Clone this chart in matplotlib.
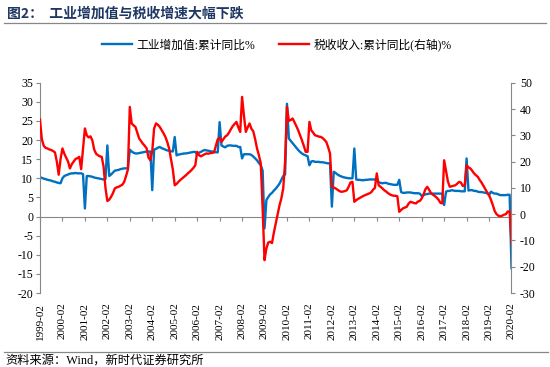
import matplotlib
matplotlib.use("Agg")
import matplotlib.pyplot as plt
from matplotlib.font_manager import FontProperties
from matplotlib.lines import Line2D
import pandas as pd

plt.rcParams["axes.unicode_minus"] = False

months = list(pd.period_range("1999-02", "2020-02", freq="M").strftime("%Y-%m"))
tick_labels = [f"{y}-02" for y in range(1999, 2021)]

# 工业增加值:累计同比 %, monthly 1999-02 .. 2020-02 (one row per calendar year)
iva_yoy = [
    10.3, 10.1, 9.9, 9.8, 9.6, 9.5, 9.4, 9.2, 9.1, 8.9, 8.8,                 # 1999 (Feb-Dec)
    8.7, 10.0, 10.6, 10.8, 11.0, 11.2, 11.3, 11.3, 11.4, 11.3, 11.3, 11.3,   # 2000
    11.1, 2.1, 10.6, 10.6, 10.5, 10.4, 10.2, 10.1, 10.0, 9.9, 9.8, 9.7,      # 2001
    9.8, 18.6, 10.6, 11.0, 11.5, 12.0, 12.1, 12.2, 12.4, 12.5, 12.6, 12.6,   # 2002
    12.7, 17.5, 17.0, 16.7, 16.5, 16.5, 16.6, 16.7, 16.8, 16.9, 17.0, 17.0,  # 2003
    17.0, 6.9, 17.5, 17.7, 18.0, 18.2, 17.9, 17.7, 17.5, 17.3, 17.2, 17.1,   # 2004
    17.0, 20.8, 16.0, 16.2, 16.3, 16.4, 16.5, 16.5, 16.6, 16.7, 16.8, 16.9,  # 2005
    16.9, 16.2, 16.7, 16.9, 17.2, 17.4, 17.3, 17.2, 17.1, 17.0, 16.9, 16.8,  # 2006
    16.8, 24.7, 18.6, 18.3, 18.1, 18.5, 18.6, 18.6, 18.5, 18.5, 18.5, 18.2,  # 2007
    18.2, 15.2, 16.3, 16.3, 16.3, 16.3, 16.1, 15.7, 15.2, 14.7, 14.0, 13.4,  # 2008
    12.0, -3.1, 4.3, 5.1, 5.8, 6.2, 6.8, 7.3, 7.9, 8.6, 9.6, 10.6,           # 2009
    11.0, 29.5, 20.4, 19.8, 19.2, 18.6, 18.0, 17.4, 16.9, 16.5, 16.2, 16.0,  # 2010
    15.8, 13.4, 14.4, 14.5, 14.3, 14.3, 14.3, 14.2, 14.2, 14.1, 14.0, 13.9,  # 2011
    14.0, 2.6, 11.7, 11.4, 11.0, 10.7, 10.5, 10.3, 10.2, 10.1, 10.0, 10.0,   # 2012
    10.0, 17.8, 9.7, 9.6, 9.6, 9.5, 9.5, 9.6, 9.6, 9.7, 9.7, 9.7,            # 2013
    9.7, 9.4, 9.0, 8.8, 8.7, 8.8, 8.8, 8.6, 8.5, 8.4, 8.3, 8.3,              # 2014
    8.3, 9.6, 6.4, 6.2, 6.2, 6.3, 6.3, 6.3, 6.2, 6.1, 6.1, 6.1,              # 2015
    6.0, 5.4, 5.6, 5.8, 5.9, 6.0, 6.0, 6.0, 6.0, 6.0, 6.0, 6.0,              # 2016
    6.0, 3.0, 6.5, 6.7, 6.7, 6.9, 6.8, 6.7, 6.7, 6.7, 6.6, 6.6,              # 2017
    6.6, 15.2, 6.8, 6.9, 6.9, 6.7, 6.7, 6.5, 6.4, 6.4, 6.3, 6.2,             # 2018
    6.1, 5.6, 6.5, 6.2, 6.0, 6.0, 5.8, 5.6, 5.6, 5.6, 5.6, 5.7,              # 2019
    5.7, -13.5,                                                              # 2020
]

# 税收收入:累计同比 % (right axis)
tax_yoy = [
    36.0, 28.5, 26.0, 25.2, 25.0, 24.6, 24.4, 24.0, 23.5, 20.0, 15.0,        # 1999 (Feb-Dec)
    21.0, 25.0, 23.0, 21.5, 20.0, 17.4, 19.0, 20.0, 21.0, 21.3, 21.8, 17.1,  # 2000
    25.0, 32.6, 30.0, 29.2, 29.6, 28.0, 24.5, 23.0, 22.4, 22.0, 21.8, 18.0,  # 2001
    10.0, 5.0, 5.5, 6.6, 8.0, 9.8, 10.2, 10.4, 10.8, 11.2, 12.3, 14.5,       # 2002
    17.0, 40.8, 34.5, 33.8, 33.2, 31.0, 28.8, 27.8, 26.8, 26.0, 25.0, 21.5,  # 2003
    20.5, 24.0, 32.6, 34.5, 34.0, 33.2, 32.0, 30.8, 29.4, 27.5, 25.0, 21.0,  # 2004
    17.0, 11.0, 11.5, 12.3, 13.0, 13.6, 14.2, 14.8, 15.5, 16.1, 16.8, 17.6,  # 2005
    18.6, 23.7, 22.4, 22.0, 22.4, 22.8, 23.1, 23.0, 23.2, 23.3, 23.5, 26.0,  # 2006
    28.5, 29.0, 27.5, 28.5, 29.5, 30.0, 31.0, 32.3, 33.5, 34.3, 35.1, 33.0,  # 2007
    31.3, 44.6, 37.5, 31.3, 33.0, 34.5, 32.5, 31.5, 28.5, 25.0, 22.4, 19.3,  # 2008
    2.0, -17.5, -13.0, -10.8, -10.5, -11.0, -7.0, -3.5, 0.0, 3.3, 6.0, 9.8,  # 2009
    20.0, 40.8, 35.5, 35.8, 36.4, 35.0, 33.5, 31.9, 30.0, 28.1, 26.0, 23.7,  # 2010
    23.7, 35.1, 31.9, 31.0, 30.0, 29.8, 29.5, 29.4, 29.0, 28.3, 27.5, 25.5,  # 2011
    23.1, 10.4, 10.1, 9.8, 9.3, 8.8, 8.5, 8.6, 8.8, 9.1, 10.5, 12.1,         # 2012
    12.3, 4.7, 5.3, 5.8, 6.2, 6.6, 7.0, 7.3, 7.6, 7.9, 8.3, 9.3,             # 2013
    10.0, 15.5, 11.0, 10.4, 9.8, 9.1, 8.6, 8.0, 7.5, 7.2, 7.0, 7.0,          # 2014
    6.8, 0.9, 1.6, 2.2, 2.5, 2.8, 4.0, 4.7, 4.5, 4.2, 4.1, 4.8,              # 2015
    5.0, 6.0, 7.5, 9.5, 10.4, 9.2, 8.0, 7.4, 6.9, 6.3, 5.5, 4.3,             # 2016
    4.1, 20.5, 16.5, 12.5, 10.4, 10.6, 10.8, 11.0, 11.6, 12.3, 12.0, 10.7,   # 2017
    11.0, 18.6, 17.8, 17.4, 16.5, 15.5, 14.8, 14.2, 13.0, 12.0, 10.8, 9.5,   # 2018
    8.3, 7.2, 5.5, 3.5, 1.2, 0.0, -0.6, -0.8, -0.6, -0.2, 0.0, 1.0,          # 2019
    1.0, -11.1,                                                              # 2020
]

left_lim = (-20, 35)
right_lim = (-30, 50)

BLUE = "#0070C0"
RED = "#FF0000"
GRAY = "#878787"
TITLE_COLOR = "#1F3763"
serif_cjk = ["Liberation Serif", "Noto Sans CJK SC"]


def main() -> None:
    fig = plt.figure(figsize=(5.5, 3.67), dpi=100)
    ax = fig.add_axes([0.0727, 0.2016, 0.8573, 0.573])
    x = range(len(months))

    l1, = ax.plot(x, iva_yoy, color=BLUE, lw=1.7, solid_joinstyle="round")
    ax.set_xlim(0, len(months) - 1)
    ax.set_ylim(*left_lim)
    ax.set_yticks(range(left_lim[0], left_lim[1] + 1, 5))

    ax2 = ax.twinx()
    l2, = ax2.plot(x, tax_yoy, color=RED, lw=1.7, solid_joinstyle="round")
    ax2.set_ylim(*right_lim)
    ax2.set_yticks(range(right_lim[0], right_lim[1] + 1, 10))

    tick_pos = [months.index(t) for t in tick_labels]
    ax.set_xticks(tick_pos)
    ax.set_xticklabels(tick_labels, rotation=90, fontfamily="Liberation Serif", fontsize=8)
    ax.tick_params(axis="x", length=0, pad=7)

    # horizontal axis line sits on the left-axis zero
    zero_loc = (0 - left_lim[0]) / (left_lim[1] - left_lim[0])
    zero_ax = ax.secondary_xaxis(zero_loc)
    zero_ax.set_xticks(tick_pos)
    zero_ax.tick_params(axis="x", direction="out", length=3, color=GRAY, labelbottom=False, labeltop=False)
    for s in zero_ax.spines.values():
        s.set_color(GRAY)

    for a in (ax, ax2):
        for side in ("top", "bottom"):
            a.spines[side].set_visible(False)
    ax.spines["right"].set_visible(False)
    ax2.spines["left"].set_visible(False)
    ax.spines["left"].set_color(GRAY)
    ax2.spines["right"].set_color(GRAY)

    ax.tick_params(axis="y", direction="out", length=3, color=GRAY, pad=2)
    ax2.tick_params(axis="y", direction="out", length=3, color=GRAY, pad=3)
    for lab in ax.get_yticklabels() + ax2.get_yticklabels():
        lab.set_fontfamily("Liberation Serif")
        lab.set_fontsize(8.5)

    fig.legend(
        [l1, l2],
        ["工业增加值:累计同比%", "税收收入:累计同比(右轴)%"],
        loc="center", bbox_to_anchor=(0.503, 0.877), ncol=2, frameon=False,
        prop=FontProperties(family=serif_cjk, size=8.5),
        handlelength=2.6, handletextpad=0.35, columnspacing=2.0,
    )

    fig.text(7 / 550, 1 - 13.3 / 367, "图2：  工业增加值与税收增速大幅下跌",
             fontfamily="Noto Sans CJK SC", fontweight="bold", fontsize=10,
             color=TITLE_COLOR, va="center", ha="left")
    fig.add_artist(Line2D([4 / 550, 546 / 550], [1 - 23.3 / 367] * 2,
                          transform=fig.transFigure, color=GRAY, lw=0.9))
    fig.add_artist(Line2D([4 / 550, 548 / 550], [1 - 351.7 / 367] * 2,
                          transform=fig.transFigure, color=GRAY, lw=0.9))
    fig.text(5 / 550, 1 - 360.5 / 367, "资料来源：Wind，新时代证券研究所",
             fontfamily=serif_cjk, fontsize=8.8, va="center", ha="left")

    fig.savefig("out.png", dpi=100)
    plt.close(fig)


if __name__ == "__main__":
    main()
